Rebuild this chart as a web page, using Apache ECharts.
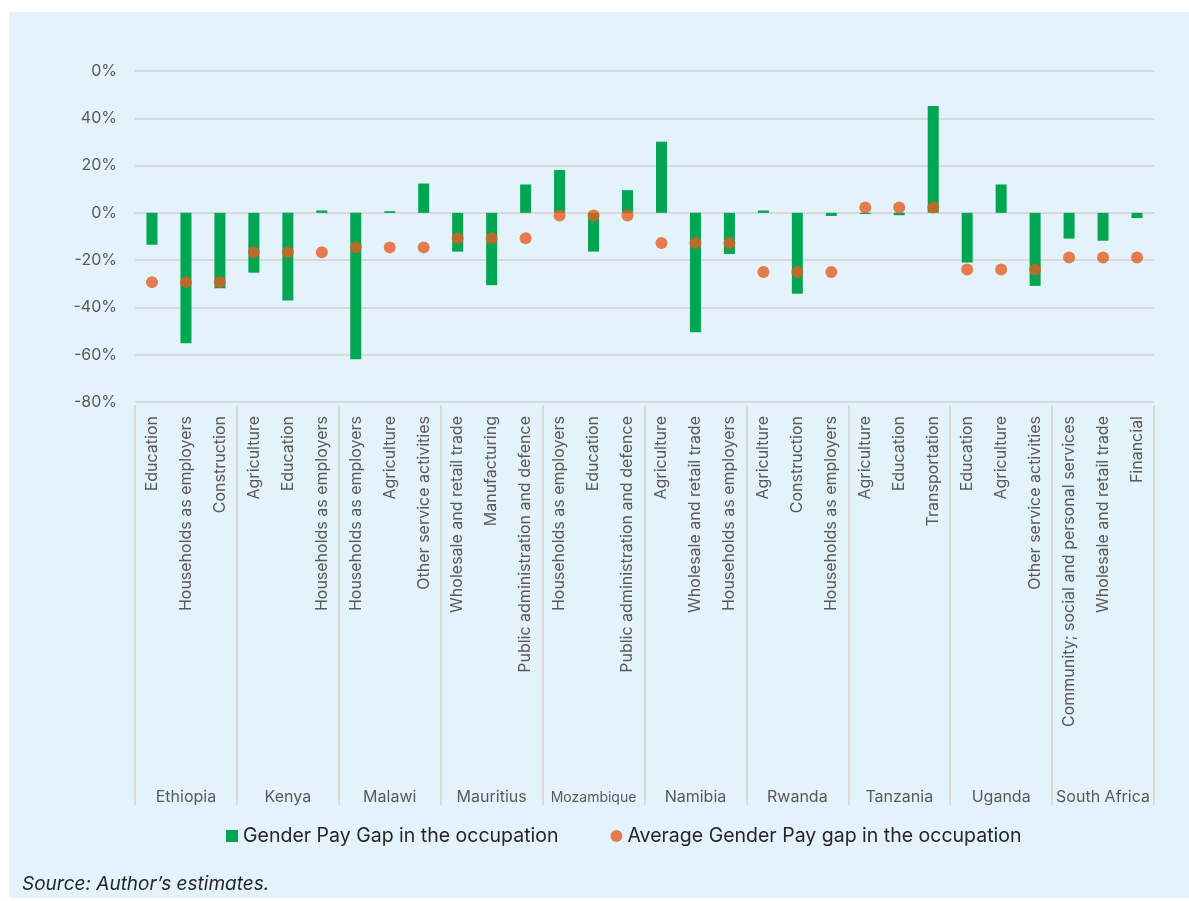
<!DOCTYPE html>
<html>
<head>
<meta charset="utf-8">
<script src="https://cdn.jsdelivr.net/npm/echarts@6/dist/echarts.min.js"></script>
<style>
html,body{margin:0;padding:0;background:#ffffff;}
#bg{position:absolute;left:9px;top:12px;width:1180px;height:886px;background:#E4F3FB;}
#chart{position:absolute;left:0;top:0;width:1189px;height:901px;}
</style>
</head>
<body>
<div id="bg"></div>
<div id="chart"></div>
<script>
const countries = ['Ethiopia','Kenya','Malawi','Mauritius','Mozambique','Namibia','Rwanda','Tanzania','Uganda','South Africa'];
const occupations = [
  'Education','Households as employers','Construction',
  'Agriculture','Education','Households as employers',
  'Households as employers','Agriculture','Other service activities',
  'Wholesale and retail trade','Manufacturing','Public administration and defence',
  'Households as employers','Education','Public administration and defence',
  'Agriculture','Wholesale and retail trade','Households as employers',
  'Agriculture','Construction','Households as employers',
  'Agriculture','Education','Transportation',
  'Education','Agriculture','Other service activities',
  'Community; social and personal services','Wholesale and retail trade','Financial'
];
const payGap = [-13.5,-55.2,-31.9, -25.3,-37.1,1.0, -61.9,0.7,12.4, -16.4,-30.6,12.0, 18.1,-16.4,9.6, 30.1,-50.5,-17.4, 1.0,-34.2,-1.3, -0.5,-1.0,45.2, -21.0,12.0,-30.9, -10.9,-11.8,-2.2];
const avgGap = [-29.3,-29.3,-29.3, -16.7,-16.7,-16.7, -14.6,-14.6,-14.6, -10.7,-10.7,-10.7, -1.1,-1.1,-1.1, -12.7,-12.7,-12.7, -25.0,-25.0,-25.0, 2.3,2.3,2.3, -24.0,-24.0,-24.0, -18.9,-18.9,-18.9];
const yTickLabels = {60:'0%',40:'40%',20:'20%',0:'0%','-20':'-20%','-40':'-40%','-60':'-60%','-80':'-80%'};
const seriesNames = ['Gender Pay Gap in the occupation','Average Gender Pay gap in the occupation'];

const FONT = 'Inter';
const chart = echarts.init(document.getElementById('chart'), null, {renderer:'canvas'});
chart.setOption({
  backgroundColor: 'transparent',
  textStyle: {fontFamily: FONT},
  grid: {left: 135, right: 35, top: 71, bottom: 499, containLabel: false},
  legend: {
    bottom: 50, left: 221, itemGap: 52, itemWidth: 12, itemHeight: 12,
    textStyle: {fontFamily: FONT, fontSize: 19.5, color: '#262626'},
    data: [
      {name: seriesNames[0], icon: 'rect'},
      {name: seriesNames[1], icon: 'circle'}
    ]
  },
  xAxis: [
    {
      type: 'category', data: occupations, position: 'bottom',
      axisLine: {show: true, lineStyle: {color: '#D9D9D9', width: 2}},
      axisTick: {show: false},
      axisLabel: {interval: 0, rotate: 90, margin: 14, color: '#595959', fontSize: 16, fontFamily: FONT},
      splitLine: {show: false}
    },
    {
      type: 'category', data: countries, position: 'bottom', offset: 403,
      axisLine: {show: false},
      axisTick: {show: true, inside: true, length: 400, lineStyle: {color: '#D9D9D9', width: 2}},
      axisLabel: {
        interval: 0, inside: true, margin: 0, color: '#595959', fontSize: 16, fontFamily: FONT,
        formatter: function (v) { return v === 'Mozambique' ? '{s|' + v + '}' : v; },
        rich: {s: {fontSize: 14, color: '#595959', fontFamily: FONT}}
      },
      splitLine: {show: false}
    }
  ],
  yAxis: {
    type: 'value', min: -80, max: 60, interval: 20,
    axisLine: {show: false}, axisTick: {show: false},
    axisLabel: {margin: 18, color: '#595959', fontSize: 16, fontFamily: FONT,
      formatter: function (v) { return yTickLabels[String(v)] !== undefined ? yTickLabels[String(v)] : v + '%'; }},
    splitLine: {show: true, lineStyle: {color: '#D9D9D9', width: 2}}
  },
  series: [
    {
      name: seriesNames[0], type: 'bar', xAxisIndex: 0, data: payGap, barWidth: 11,
      itemStyle: {color: '#00A651'}, z: 2
    },
    {
      name: seriesNames[1], type: 'scatter', xAxisIndex: 0, data: avgGap, symbol: 'circle', symbolSize: 12,
      itemStyle: {color: '#E35E22'}, z: 3
    }
  ],
  graphic: [
    {type: 'text', left: 22, top: 875, style: {text: 'Source: Author\u2019s estimates.', font: 'italic 19px "Inter"', fill: '#262626'}}
  ],
  animation: false
});
</script>
</body>
</html>
